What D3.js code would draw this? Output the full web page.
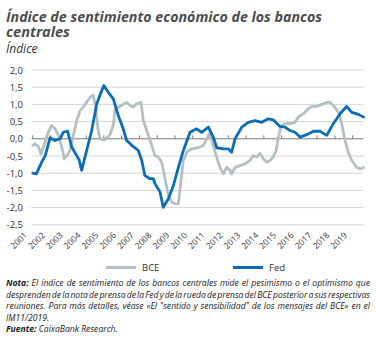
<!DOCTYPE html>
<html lang="es">
<head>
<meta charset="UTF-8">
<title>Índice de sentimiento económico de los bancos centrales</title>
<script src="https://d3js.org/d3.v7.min.js"></script>
<style>
  body { margin: 0; background: #fff; }
  svg { display: block; font-family: "Open Sans", sans-serif; }
</style>
</head>
<body>
<div id="chart"></div>
<script>
// series values (decimal year, index value)
const bceYears = [2001.0, 2001.12, 2001.31, 2001.46, 2001.69, 2001.87, 2002.06, 2002.25, 2002.44, 2002.63,
  2002.77, 2002.91, 2003.09, 2003.28, 2003.47, 2003.66, 2003.84, 2004.03, 2004.22, 2004.4,
  2004.54, 2004.65, 2004.78, 2005.06, 2005.34, 2005.53, 2005.63, 2005.81, 2006.0, 2006.28,
  2006.47, 2006.66, 2006.85, 2007.09, 2007.22, 2007.41, 2007.69, 2007.88, 2008.06, 2008.25,
  2008.44, 2008.63, 2008.82, 2009.0, 2009.19, 2009.34, 2009.47, 2009.66, 2009.94, 2010.31,
  2010.6, 2010.79, 2010.92, 2011.07, 2011.29, 2011.53, 2011.72, 2011.91, 2012.1, 2012.19,
  2012.38, 2012.66, 2012.94, 2013.22, 2013.4, 2013.6, 2013.78, 2013.97, 2014.16, 2014.35,
  2014.53, 2014.69, 2014.82, 2014.95, 2015.19, 2015.47, 2015.75, 2015.94, 2016.22, 2016.5,
  2016.69, 2016.97, 2017.26, 2017.54, 2017.72, 2017.91, 2018.2, 2018.38, 2018.57, 2018.75,
  2018.95, 2019.23, 2019.41, 2019.62];
const bceValues = [-0.19, -0.15, -0.22, -0.44, -0.1, 0.19, 0.39, 0.29, 0.1, -0.24,
  -0.58, -0.49, -0.34, 0.1, 0.53, 0.82, 0.92, 1.06, 1.21, 1.27,
  0.92, 0.34, 0.0, -0.03, 0.12, 0.4, 0.87, 0.92, 0.97, 1.06,
  0.97, 0.92, 1.02, 1.06, 0.53, 0.24, -0.19, -0.49, -0.53, -0.68,
  -1.16, -1.65, -1.84, -1.89, -1.89, -1.21, -0.63, -0.39, -0.29, -0.26,
  -0.19, 0.0, 0.15, -0.05, -0.44, -0.83, -1.02, -0.83, -0.92, -1.02,
  -0.83, -0.78, -0.73, -0.63, -0.49, -0.53, -0.42, -0.58, -0.68, -0.63,
  -0.53, -0.34, 0.05, 0.34, 0.44, 0.44, 0.48, 0.63, 0.73, 0.87,
  0.94, 0.94, 1.0, 1.06, 1.06, 0.97, 0.77, 0.44, -0.05, -0.39,
  -0.63, -0.83, -0.87, -0.84];

const fedYears = [2001.0, 2001.2, 2001.5, 2001.7, 2001.97, 2002.25, 2002.53, 2002.72, 2002.96, 2003.19,
  2003.47, 2003.6, 2003.75, 2004.03, 2004.31, 2004.6, 2004.84, 2005.0, 2005.25, 2005.53,
  2005.81, 2006.09, 2006.28, 2006.57, 2006.94, 2007.13, 2007.31, 2007.6, 2007.78, 2007.88,
  2008.16, 2008.34, 2008.63, 2008.91, 2009.19, 2009.47, 2009.75, 2009.85, 2010.22, 2010.5,
  2010.88, 2011.16, 2011.35, 2011.72, 2012.0, 2012.19, 2012.38, 2012.76, 2013.13, 2013.5,
  2013.88, 2014.25, 2014.53, 2014.91, 2015.19, 2015.47, 2015.75, 2016.04, 2016.41, 2016.79,
  2017.16, 2017.54, 2017.91, 2018.29, 2018.66, 2018.95, 2019.32, 2019.62];
const fedValues = [-1.0, -1.02, -0.68, -0.49, 0.03, -0.05, 0.0, 0.19, 0.22, -0.24,
  -0.49, -0.6, -0.92, -0.34, 0.24, 1.02, 1.35, 1.55, 1.35, 1.16,
  0.68, 0.29, -0.05, -0.19, -0.34, -0.63, -1.07, -1.16, -1.16, -1.31,
  -1.55, -1.99, -1.74, -1.36, -0.83, -0.34, 0.05, 0.19, 0.29, 0.19,
  0.34, 0.04, -0.26, -0.29, -0.29, -0.39, 0.0, 0.34, 0.48, 0.53,
  0.48, 0.58, 0.55, 0.36, 0.34, 0.24, 0.19, 0.05, 0.12, 0.22,
  0.22, 0.1, 0.44, 0.73, 0.94, 0.77, 0.71, 0.63];

// tick labels
const yearTicks = d3.range(2001, 2020);
const yTicks = [2.0, 1.5, 1.0, 0.5, 0.0, -0.5, -1.0, -1.5, -2.0, -2.5];

const seriesNames = ["BCE", "Fed"];
const seriesColors = ["#b5c0c3", "#0b6db7"];

const W = 376, H = 338;
const svg = d3.select("#chart").append("svg")
  .attr("width", W).attr("height", H);
svg.append("rect").attr("width", W).attr("height", H).attr("fill", "#fff");

// title
svg.append("text")
  .attr("x", 6).attr("y", 21.5)
  .attr("font-size", 13.5).attr("font-weight", "bold").attr("font-style", "italic")
  .attr("fill", "#4d4d4d")
  .attr("textLength", 316).attr("lengthAdjust", "spacingAndGlyphs")
  .text("Índice de sentimiento económico de los bancos");
svg.append("text")
  .attr("x", 6).attr("y", 36.5)
  .attr("font-size", 13.5).attr("font-weight", "bold").attr("font-style", "italic")
  .attr("fill", "#4d4d4d")
  .attr("textLength", 64).attr("lengthAdjust", "spacingAndGlyphs")
  .text("centrales");
svg.append("text")
  .attr("x", 6).attr("y", 52.5)
  .attr("font-size", 12).attr("font-style", "italic")
  .attr("fill", "#333")
  .text("Índice");

// scales
const x = d3.scaleLinear().domain([2001, 2019]).range([32.8, 352.7]);
const y = d3.scaleLinear().domain([-2.5, 2.0]).range([224.8, 70]);
const gridLeft = 31.5, gridRight = 363.5;

// gridlines
svg.append("g").selectAll("line")
  .data(yTicks.filter(d => d !== 0))
  .join("line")
  .attr("x1", gridLeft).attr("x2", gridRight)
  .attr("y1", d => y(d)).attr("y2", d => y(d))
  .attr("stroke", "#d6d6d6").attr("stroke-width", 1);

// y labels
const fmt = d => d3.format(".1f")(d).replace(".", ",").replace("−", "-");
svg.append("g").selectAll("text")
  .data(yTicks)
  .join("text")
  .attr("x", 23).attr("y", d => y(d) + 3.5)
  .attr("text-anchor", "end")
  .attr("font-size", 9.5).attr("fill", "#333")
  .text(fmt);

// zero axis with year ticks
const axis = svg.append("g").attr("transform", `translate(0,${y(0)})`);
axis.append("line")
  .attr("x1", gridLeft).attr("x2", gridRight)
  .attr("stroke", "#7a7a7a").attr("stroke-width", 1);
axis.selectAll("line.tick")
  .data(yearTicks)
  .join("line").attr("class", "tick")
  .attr("x1", d => x(d)).attr("x2", d => x(d))
  .attr("y1", -3.5).attr("y2", 0)
  .attr("stroke", "#7a7a7a").attr("stroke-width", 1);

// year labels, rotated
svg.append("g").selectAll("text")
  .data(yearTicks)
  .join("text")
  .attr("transform", d => `translate(${x(d) - 5},${y(-2.5) + 11}) rotate(-45)`)
  .attr("text-anchor", "end")
  .attr("font-size", 8.5).attr("fill", "#333")
  .text(d => d);

// lines
const line = d3.line()
  .x(d => x(d[0]))
  .y(d => y(d[1]));

const seriesData = [
  d3.zip(bceYears, bceValues),
  d3.zip(fedYears, fedValues)
];

svg.append("g").selectAll("path")
  .data(seriesData)
  .join("path")
  .attr("d", line)
  .attr("fill", "none")
  .attr("stroke", (d, i) => seriesColors[i])
  .attr("stroke-width", 2.8)
  .attr("stroke-linejoin", "round")
  .attr("stroke-linecap", "round");

// legend
const legendX = [106, 233];
const legend = svg.append("g").selectAll("g")
  .data(seriesNames)
  .join("g")
  .attr("transform", (d, i) => `translate(${legendX[i]},267.5)`);
legend.append("line")
  .attr("x1", 0).attr("x2", 30)
  .attr("stroke", (d, i) => seriesColors[i])
  .attr("stroke-width", 3);
legend.append("text")
  .attr("x", 36).attr("y", 3.5)
  .attr("font-size", 9.5).attr("fill", "#333")
  .text(d => d);

// note, justified lines
const noteLines = [
  [["Nota:", true], [" El índice de sentimiento de los bancos centrales mide el pesimismo o el optimismo que", false]],
  [["desprenden de la nota de prensa de la Fed y de la rueda de prensa del BCE posterior a sus respectivas", false]],
  [["reuniones. Para más detalles, véase «El \"sentido y sensibilidad\" de los mensajes del BCE» en el", false]],
  [["IM11/2019.", false]],
  [["Fuente:", true], [" CaixaBank Research.", false]]
];
const noteY = [286, 297.5, 309, 320.5, 332];
const justify = [true, true, true, false, false];
const noteLeft = 6, noteRight = 370;

noteLines.forEach((parts, i) => {
  const t = svg.append("text")
    .attr("x", noteLeft).attr("y", noteY[i])
    .attr("font-size", 8.6).attr("font-style", "italic")
    .attr("fill", "#222");
  parts.forEach(p => {
    t.append("tspan")
      .attr("font-weight", p[1] ? "bold" : "normal")
      .text(p[0]);
  });
  if (justify[i]) {
    const len = t.node().getComputedTextLength();
    const txt = parts.map(p => p[0]).join("");
    const spaces = (txt.match(/ /g) || []).length;
    if (spaces > 0) t.attr("word-spacing", (noteRight - noteLeft - len) / spaces);
  }
});
</script>
</body>
</html>
